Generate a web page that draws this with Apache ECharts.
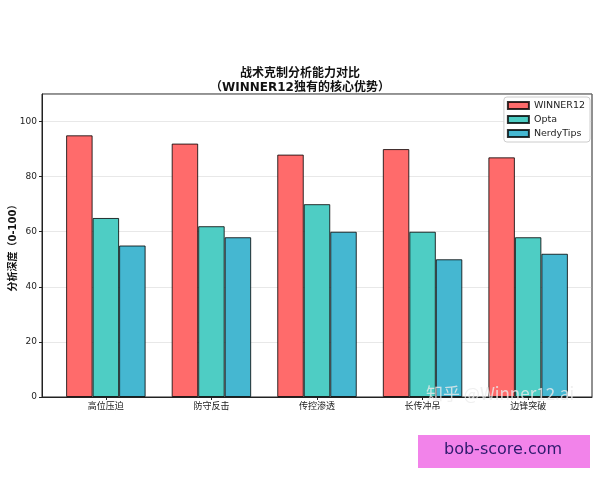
<!DOCTYPE html>
<html>
<head>
<meta charset="utf-8">
<script src="https://cdn.jsdelivr.net/npm/echarts@6/dist/echarts.min.js"></script>
<style>html,body{margin:0;padding:0;background:#fff;}#c{width:600px;height:480px;}</style>
</head>
<body>
<div id="c"></div>
<script>
const categories = ['高位压迫', '防守反击', '传控渗透', '长传冲吊', '边锋突破'];
const winner12 = [95, 92, 88, 90, 87];
const opta = [65, 62, 70, 60, 58];
const nerdyTips = [55, 58, 60, 50, 52];
const yTicks = [0, 20, 40, 60, 80, 100];

const font = '"DejaVu Sans", "Noto Sans CJK SC", sans-serif';
const toXY = arr => arr.map((v, i) => [i, v]);
const barStyle = c => ({ color: c, borderColor: 'rgba(0,0,0,0.8)', borderWidth: 1 });

const chart = echarts.init(document.getElementById('c'), null, { renderer: 'canvas' });
chart.setOption({
  animation: false,
  textStyle: { fontFamily: font },
  title: {
    text: '战术克制分析能力对比\n（WINNER12独有的核心优势）',
    left: 'center', top: 62,
    textStyle: { fontSize: 12, fontWeight: 'bold', color: '#111', lineHeight: 14, fontFamily: font }
  },
  grid: { left: 42, right: 8, top: 94, bottom: 83, show: true, borderColor: '#222', borderWidth: 1, backgroundColor: 'transparent', outerBoundsMode: 'none', containLabel: false },
  legend: {
    orient: 'vertical', right: 10, top: 97,
    itemWidth: 21, itemHeight: 7, itemGap: 3,
    icon: 'rect',
    borderColor: '#ccc', borderWidth: 1, borderRadius: 3, padding: [3, 5, 3, 3],
    backgroundColor: '#fff',
    textStyle: { fontSize: 9.5, color: '#222', fontFamily: font, lineHeight: 11 },
    data: ['WINNER12', 'Opta', 'NerdyTips']
  },
  xAxis: {
    type: 'value', min: -0.605, max: 4.605,
    axisLine: { show: true, onZero: false, lineStyle: { color: '#222' } },
    axisTick: { show: true, customValues: [0, 1, 2, 3, 4], length: 3, lineStyle: { color: '#222' } },
    axisLabel: { customValues: [0, 1, 2, 3, 4], formatter: v => categories[v], fontSize: 9, color: '#222', margin: 5, fontFamily: font },
    splitLine: { show: false }
  },
  yAxis: {
    type: 'value', min: 0, max: 110, interval: 20,
    name: '分析深度（0-100）', nameLocation: 'middle', nameGap: 24, nameMoveOverlap: false,
    nameTextStyle: { fontSize: 10, fontWeight: 'bold', color: '#111', fontFamily: font },
    axisLine: { show: true, onZero: false, lineStyle: { color: '#222' } },
    axisTick: { show: true, length: 3, lineStyle: { color: '#222' } },
    axisLabel: { fontSize: 9, color: '#222', margin: 5, fontFamily: font, showMaxLabel: false },
    splitLine: { show: true, lineStyle: { color: 'rgba(180,180,180,0.3)', width: 1 } }
  },
  series: [
    { name: 'WINNER12', type: 'bar', data: toXY(winner12), barWidth: 26.5, barGap: '0%', itemStyle: barStyle('#FF6B6B') },
    { name: 'Opta', type: 'bar', data: toXY(opta), barWidth: 26.5, barGap: '0%', itemStyle: barStyle('#4ECDC4') },
    { name: 'NerdyTips', type: 'bar', data: toXY(nerdyTips), barWidth: 26.5, barGap: '0%', itemStyle: barStyle('#45B7D1') }
  ],
  graphic: [
    { type: 'text', left: 426, top: 385, z: 100, style: { text: '知乎 @Winner12.ai', font: '17px "Noto Sans CJK SC", sans-serif', fill: 'rgba(235,235,235,0.8)' } },
    { type: 'rect', left: 418, top: 435, z: 100, shape: { width: 172, height: 33 }, style: { fill: '#F283EA' } },
    { type: 'text', left: 444, top: 442, z: 101, style: { text: 'bob-score.com', font: '16px "DejaVu Sans", sans-serif', fill: '#2E1A6E' } }
  ]
});
</script>
</body>
</html>
